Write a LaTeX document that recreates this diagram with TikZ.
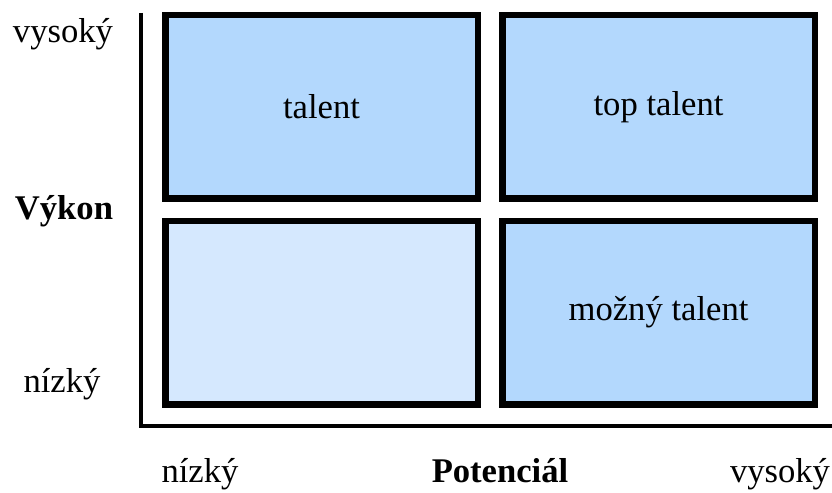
\documentclass[tikz,border=0pt]{standalone}
\usepackage{fontspec}
\setmainfont{Liberation Serif}
\usepackage{xcolor}
\usetikzlibrary{positioning}

\definecolor{cellblue}{RGB}{179,216,253}
\definecolor{cellpale}{RGB}{213,232,254}

\begin{document}
\begin{tikzpicture}[
    font=\fontsize{19.7pt}{23pt}\selectfont,
    cell/.style={draw,line width=0.13cm,fill=cellblue,minimum width=6.25cm,minimum height=3.67cm,align=center},
    axis/.style={line width=0.08cm},
    tick/.style={anchor=base},
    title/.style={anchor=base,font=\fontsize{19.7pt}{23pt}\selectfont\bfseries}
  ]
    \useasboundingbox (0,0) rectangle (16.64,9.84);

    % quadrants
    \node[cell] (talent) at (6.43,7.70) {talent};
    \node[cell] (toptalent) at (13.17,7.70) {top talent};
    \node[cell,fill=cellpale] (low) at (6.43,3.59) {};
    \node[cell] (possible) at (13.17,3.59) {možný talent};

    % axes
    \coordinate (origin) at (2.82,1.32);
    \coordinate (ytop) at (2.82,9.58);
    \coordinate (xend) at (16.64,1.32);
    \draw[axis] (ytop) -- (origin) -- (xend);

    \node[tick] (yhigh) at (1.26,8.99) {vysoký};
    \node[title] (ylabel) at (1.28,5.44) {Výkon};
    \node[tick] (ylow) at (1.24,2.00) {nízký};

    \node[tick] (xlow) at (4.00,0.20) {nízký};
    \node[title] (xlabel) at (10.00,0.20) {Potenciál};
    \node[tick] (xhigh) at (15.60,0.20) {vysoký};
  \end{tikzpicture}
\end{document}
